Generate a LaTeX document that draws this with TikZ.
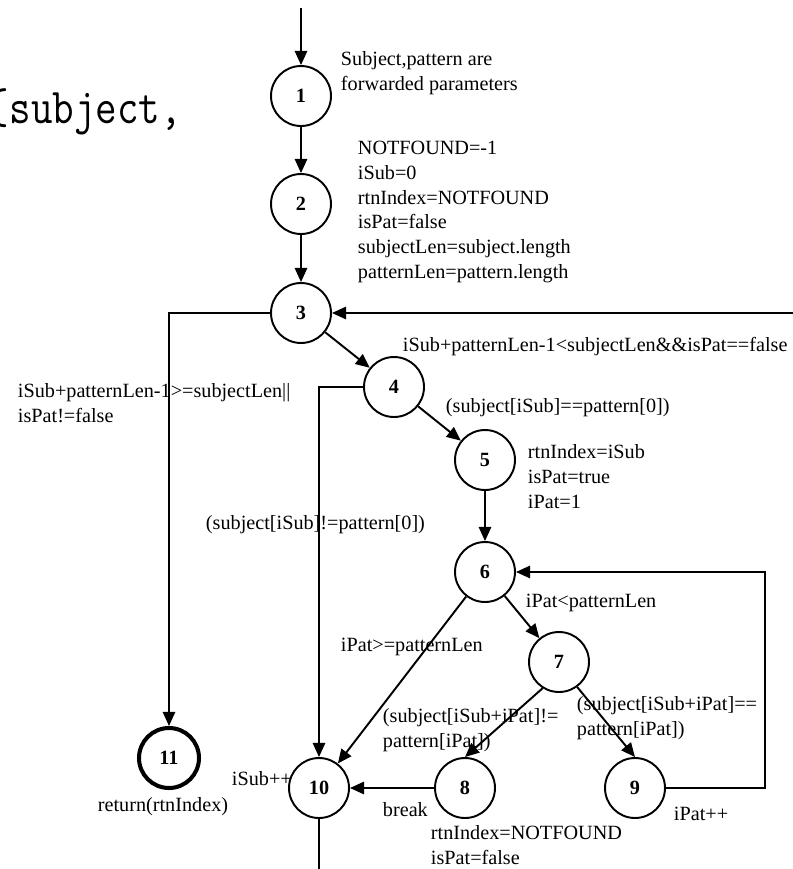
\documentclass[tikz,border=0pt]{standalone}
\usepackage{fontspec}
\usepackage{graphicx}
\setmainfont{Liberation Serif}
\usetikzlibrary{arrows.meta}
\begin{document}
\fontsize{11.5pt}{14.2pt}\selectfont
\begin{tikzpicture}[x=0.02cm,y=-0.02cm,
		>={Triangle[length=8pt,width=7pt]},
		line width=1.1pt,
		state/.style={circle,draw,line width=1.1pt,minimum size=1.2cm,inner sep=0pt,font=\bfseries},
		lbl/.style={anchor=west,align=left,inner sep=0pt}]
		\useasboundingbox (0,0) rectangle (792,869);
		\node[anchor=base west,inner sep=0pt] (head) at (-13,123) {\scalebox{1}[1.2]{\fontsize{23.8pt}{24pt}\ttfamily\{subject,}};
		% states
		\node[state] (n1) at (301,96) {1};
		\node[state] (n2) at (301,204) {2};
		\node[state] (n3) at (301,313) {3};
		\node[state] (n4) at (394,387) {4};
		\node[state] (n5) at (485,460) {5};
		\node[state] (n6) at (485,572) {6};
		\node[state] (n7) at (559,662) {7};
		\node[state] (n8) at (465,788) {8};
		\node[state] (n9) at (635,788) {9};
		\node[state] (n10) at (319,788) {10};
		\node[state,line width=2.3pt] (n11) at (169,758) {11};
		\coordinate (start) at (301,8);
		\coordinate (back) at (765,572);
		\coordinate (loop) at (795,313);
		\coordinate (stop) at (319,872);
		% edges
		\draw[->] (start) -- (n1);
		\draw[->] (n1) -- (n2);
		\draw[->] (n2) -- (n3);
		\draw[->] (n3) -- (n4);
		\draw[->] (n3) -| (n11);
		\draw[->] (loop) -- (n3);
		\draw[->] (n4) -- (n5);
		\draw[->] (n4) -| (n10);
		\draw[->] (n5) -- (n6);
		\draw[->] (n6) -- (n7);
		\draw[->] (n6) -- (n10);
		\draw[->] (n7.238) -- (n8.north);
		\draw[->] (n7.306) -- (n9.north);
		\draw[->] (n8) -- (n10);
		\draw[->] (n9) -| (back) -- (n6);
		\draw (n10) -- (stop);
		% texts
		\node[lbl] (t1) at (340,73) {Subject,pattern are\\forwarded parameters};
		\node[lbl] (t2) at (357,212) {NOTFOUND=-1\\iSub=0\\rtnIndex=NOTFOUND\\isPat=false\\subjectLen=subject.length\\patternLen=pattern.length};
		\node[lbl] (t3) at (402,347) {iSub+patternLen-1<subjectLen\&\&isPat==false};
		\node[lbl] (t3b) at (17,403) {iSub+patternLen-1>=subjectLen||\\isPat!=false};
		\node[lbl] (t4) at (445,408) {(subject[iSub]==pattern[0])};
		\node[lbl] (t4b) at (205,525) {(subject[iSub]!=pattern[0])};
		\node[lbl] (t5) at (527,477) {rtnIndex=iSub\\isPat=true\\iPat=1};
		\node[lbl] (t6) at (525,603) {iPat<patternLen};
		\node[lbl] (t6b) at (340,647) {iPat>=patternLen};
		\node[lbl] (t7a) at (382,730) {(subject[iSub+iPat]!=\\pattern[iPat])};
		\node[lbl] (t7b) at (576,718) {(subject[iSub+iPat]==\\pattern[iPat])};
		\node[lbl] (t8) at (382,810) {break};
		\node[lbl] (t8b) at (430,845) {rtnIndex=NOTFOUND\\isPat=false};
		\node[lbl] (t9) at (673,814) {iPat++};
		\node[lbl] (t10) at (231,779) {iSub++};
		\node[inner sep=0pt] (t11) at (163,807) {return(rtnIndex)};
	\end{tikzpicture}
\end{document}
